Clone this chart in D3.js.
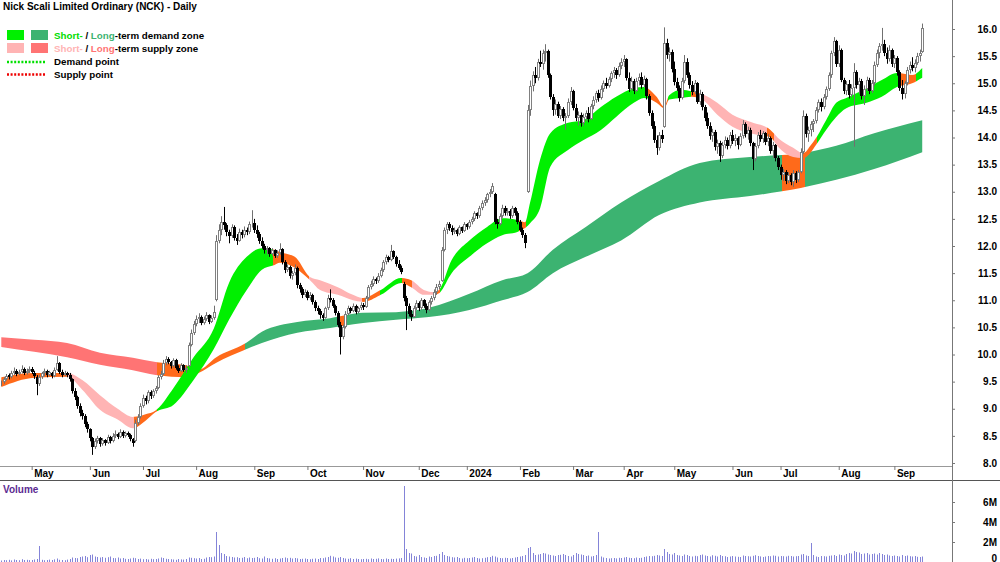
<!DOCTYPE html>
<html>
<head>
<meta charset="utf-8">
<script src="https://d3js.org/d3.v7.min.js"></script>
<style>
body { margin: 0; background: #fff; }
svg { display: block; font-family: "Liberation Sans", Arial, sans-serif; }
</style>
</head>
<body>
<div id="container"></div>
<script>

// trading days in each month shown (first and last are partial)
var monthLabels = ["Apr", "May", "Jun", "Jul", "Aug", "Sep", "Oct", "Nov", "Dec", "2024", "Feb", "Mar", "Apr", "May", "Jun", "Jul", "Aug", "Sep"];
var monthDays = [12, 23, 21, 21, 23, 21, 22, 22, 19, 21, 21, 20, 20, 23, 19, 23, 22, 12];

// daily [open, high, low, close]
var candles = [
	// Apr 2023
	[9.45,9.52,9.42,9.48],[9.50,9.58,9.46,9.55],[9.55,9.64,9.52,9.60],[9.62,9.65,9.54,9.58],[9.58,9.70,9.56,9.66],[9.66,9.76,9.62,9.70],
	[9.70,9.73,9.60,9.64],[9.64,9.72,9.62,9.68],[9.68,9.80,9.65,9.74],[9.74,9.76,9.62,9.66],[9.66,9.74,9.63,9.70],[9.70,9.78,9.66,9.74],
	// May
	[9.74,9.77,9.64,9.68],[9.66,9.70,9.55,9.60],[9.58,9.62,9.25,9.45],[9.45,9.62,9.42,9.58],[9.58,9.68,9.55,9.65],[9.65,9.74,9.60,9.70],
	[9.70,9.72,9.58,9.62],[9.62,9.70,9.60,9.67],[9.66,9.68,9.56,9.60],[9.60,9.76,9.58,9.72],[9.72,9.97,9.70,9.84],[9.84,9.86,9.64,9.68],
	[9.68,9.72,9.58,9.62],[9.62,9.70,9.60,9.66],[9.66,9.68,9.58,9.63],[9.63,9.66,9.50,9.55],[9.55,9.56,9.28,9.32],[9.32,9.38,9.16,9.22],
	[9.22,9.24,9.00,9.05],[9.05,9.10,8.86,8.92],[8.92,8.98,8.80,8.86],[8.86,8.90,8.66,8.72],[8.72,8.76,8.56,8.62],[8.62,8.64,8.40,8.46],
	// Jun
	[8.46,8.48,8.15,8.30],[8.30,8.45,8.26,8.40],[8.40,8.50,8.36,8.46],[8.46,8.48,8.30,8.35],[8.35,8.46,8.32,8.42],[8.42,8.44,8.32,8.37],
	[8.37,8.52,8.35,8.48],[8.48,8.50,8.36,8.40],[8.40,8.55,8.38,8.50],[8.50,8.60,8.46,8.54],[8.54,8.56,8.44,8.48],[8.48,8.62,8.46,8.57],
	[8.57,8.60,8.46,8.50],[8.50,8.58,8.47,8.55],[8.55,8.58,8.48,8.52],[8.52,8.54,8.40,8.44],[8.44,8.46,8.30,8.37],[8.40,8.80,8.38,8.74],
	[8.74,8.90,8.70,8.85],[8.85,9.10,8.82,9.05],
	// Jul
	[9.05,9.26,9.02,9.20],[9.20,9.24,9.08,9.14],[9.14,9.34,9.10,9.30],[9.30,9.34,9.18,9.24],[9.24,9.36,9.20,9.32],[9.32,9.42,9.28,9.38],
	[9.38,9.62,9.36,9.58],[9.58,9.70,9.54,9.64],[9.64,9.90,9.62,9.85],[9.85,9.97,9.80,9.92],[9.92,9.95,9.82,9.86],[9.86,9.88,9.74,9.79],
	[9.79,9.93,9.76,9.90],[9.90,9.92,9.72,9.76],[9.76,9.80,9.66,9.70],[9.70,9.84,9.68,9.80],[9.80,9.82,9.68,9.72],[9.72,9.80,9.66,9.76],
	[9.78,10.22,9.76,10.18],[10.18,10.46,10.15,10.40],[10.40,10.62,10.36,10.56],
	// Aug
	[10.56,10.72,10.52,10.66],[10.66,10.76,10.58,10.70],[10.70,10.72,10.54,10.58],[10.58,10.70,10.55,10.66],[10.66,10.78,10.62,10.72],
	[10.72,10.74,10.56,10.60],[10.60,10.72,10.58,10.68],[10.68,10.90,10.64,10.78],[11.00,12.20,10.98,12.10],[12.10,12.40,12.05,12.30],
	[12.30,12.55,12.20,12.45],[12.45,12.72,12.30,12.38],[12.38,12.42,12.18,12.26],[12.26,12.30,12.05,12.18],[12.18,12.40,12.15,12.35],
	[12.35,12.38,12.10,12.14],[12.14,12.22,12.02,12.10],[12.10,12.32,12.08,12.26],[12.26,12.30,12.14,12.20],[12.20,12.36,12.16,12.30],
	[12.30,12.34,12.20,12.26],[12.26,12.45,12.22,12.40],[12.40,12.66,12.34,12.42],
	// Sep
	[12.42,12.50,12.24,12.30],[12.30,12.38,12.15,12.22],[12.22,12.26,12.04,12.10],[12.10,12.16,11.95,12.00],[12.00,12.04,11.86,11.92],
	[11.92,12.00,11.84,11.96],[11.96,11.98,11.80,11.86],[11.86,11.96,11.82,11.92],[11.92,11.94,11.78,11.82],[11.82,11.92,11.78,11.88],
	[11.88,12.05,11.84,11.94],[11.94,11.96,11.66,11.70],[11.70,11.74,11.50,11.56],[11.56,11.66,11.52,11.62],[11.62,11.64,11.40,11.45],
	[11.45,11.54,11.38,11.50],[11.50,11.66,11.46,11.60],[11.60,11.62,11.22,11.28],[11.28,11.32,11.14,11.20],[11.20,11.24,11.04,11.10],
	[11.10,11.20,11.06,11.16],
	// Oct
	[11.16,11.18,11.00,11.05],[11.05,11.15,11.00,11.10],[11.10,11.12,10.92,10.96],[10.96,11.00,10.80,10.86],[10.86,10.90,10.74,10.80],
	[10.80,10.84,10.66,10.72],[10.72,10.76,10.62,10.68],[10.68,10.88,10.66,10.85],[10.85,11.10,10.82,11.05],[11.05,11.20,10.96,11.00],
	[11.00,11.04,10.86,10.90],[10.90,10.92,10.72,10.76],[10.76,10.80,10.50,10.55],[10.55,10.60,10.00,10.32],[10.32,10.55,10.28,10.50],
	[10.50,10.80,10.48,10.75],[10.75,10.90,10.72,10.85],[10.85,10.88,10.76,10.80],[10.80,10.94,10.78,10.90],[10.90,10.92,10.74,10.78],
	[10.78,10.88,10.76,10.85],[10.85,10.96,10.82,10.92],
	// Nov
	[10.92,10.95,10.82,10.88],[10.88,11.08,10.86,11.05],[11.05,11.28,11.02,11.25],[11.25,11.36,11.20,11.30],[11.30,11.44,11.26,11.40],
	[11.40,11.42,11.30,11.35],[11.35,11.50,11.32,11.45],[11.45,11.60,11.42,11.55],[11.55,11.74,11.52,11.70],[11.70,11.84,11.66,11.80],
	[11.80,11.82,11.70,11.75],[11.75,12.02,11.72,11.90],[11.90,11.92,11.76,11.80],[11.80,11.82,11.62,11.66],[11.66,11.74,11.56,11.60],
	[11.60,11.64,11.48,11.52],[11.30,11.34,10.98,11.04],[11.04,11.08,10.45,10.90],[10.90,10.94,10.70,10.75],[10.75,10.82,10.62,10.70],
	[10.70,10.90,10.68,10.86],[10.86,11.00,10.82,10.95],
	// Dec
	[10.95,10.98,10.80,10.85],[10.85,11.04,10.82,11.00],[11.00,11.02,10.86,10.90],[10.90,10.94,10.76,10.82],[10.82,11.00,10.80,10.96],
	[10.96,11.08,10.92,11.04],[11.04,11.20,11.00,11.15],[11.15,11.30,11.10,11.25],[11.25,11.36,11.20,11.30],[11.36,11.98,11.34,11.92],
	[11.92,12.34,11.90,12.30],[12.30,12.44,12.22,12.40],[12.40,12.44,12.28,12.34],[12.34,12.38,12.20,12.25],[12.25,12.34,12.22,12.30],
	[12.30,12.32,12.18,12.22],[12.22,12.38,12.20,12.35],[12.35,12.36,12.24,12.28],[12.28,12.44,12.26,12.40],
	// Jan 2024
	[12.40,12.42,12.30,12.35],[12.35,12.48,12.32,12.45],[12.45,12.54,12.40,12.50],[12.50,12.64,12.46,12.60],[12.60,12.62,12.50,12.55],
	[12.55,12.74,12.52,12.70],[12.70,12.84,12.66,12.80],[12.80,12.90,12.74,12.85],[12.85,12.98,12.80,12.95],[12.95,13.05,12.90,13.00],
	[13.00,13.16,12.96,13.10],[12.95,12.98,12.40,12.45],[12.45,12.50,12.32,12.40],[12.40,12.60,12.38,12.55],[12.55,12.76,12.52,12.70],
	[12.70,12.74,12.56,12.60],[12.60,12.70,12.56,12.65],[12.65,12.68,12.50,12.55],[12.55,12.74,12.52,12.70],[12.70,12.72,12.56,12.60],
	[12.60,12.64,12.40,12.45],
	// Feb
	[12.45,12.48,12.26,12.30],[12.30,12.34,12.15,12.20],[12.20,12.24,11.96,12.05],[13.00,14.60,12.98,14.50],[14.50,15.05,14.40,14.95],
	[14.95,15.22,14.85,15.15],[15.15,15.30,15.00,15.10],[15.10,15.45,15.05,15.40],[15.40,15.60,15.30,15.35],[15.35,15.62,15.25,15.55],
	[15.55,15.72,15.40,15.60],[15.60,15.62,15.10,15.15],[15.15,15.18,14.70,14.75],[14.75,14.80,14.40,14.50],[14.50,14.70,14.42,14.62],
	[14.62,14.66,14.36,14.40],[14.40,14.58,14.34,14.52],[14.52,14.56,14.30,14.36],[14.36,14.45,14.14,14.40],[14.40,14.72,14.36,14.66],
	[14.66,14.93,14.60,14.85],
	// Mar
	[14.85,14.88,14.50,14.55],[14.55,14.62,14.30,14.36],[14.36,14.48,14.22,14.42],[14.42,14.46,14.20,14.26],[14.26,14.44,14.22,14.38],
	[14.38,14.50,14.30,14.46],[14.46,14.56,14.28,14.34],[14.34,14.62,14.32,14.58],[14.58,14.76,14.52,14.70],[14.70,14.86,14.64,14.82],
	[14.82,14.88,14.66,14.72],[14.72,14.96,14.70,14.90],[14.90,15.05,14.84,15.00],[15.00,15.10,14.90,14.95],[14.95,15.12,14.92,15.08],
	[15.08,15.22,15.02,15.18],[15.18,15.30,15.10,15.25],[15.25,15.28,15.08,15.15],[15.15,15.38,15.12,15.32],[15.32,15.46,15.26,15.40],
	// Apr
	[15.40,15.52,15.30,15.44],[15.44,15.46,15.05,15.10],[15.10,15.20,14.84,14.90],[14.90,15.12,14.86,15.05],[15.05,15.08,14.80,14.86],
	[14.86,15.10,14.84,15.04],[15.04,15.18,14.96,15.12],[15.12,15.20,14.90,14.96],[14.96,15.14,14.92,15.08],[15.08,15.10,14.70,14.76],
	[14.76,14.80,14.40,14.46],[14.46,14.50,14.16,14.22],[14.22,14.30,13.90,13.96],[13.96,14.04,13.68,13.80],[13.80,14.10,13.76,14.04],
	[14.04,14.14,13.90,13.98],[14.20,16.03,14.18,15.75],[15.75,15.82,15.45,15.52],[15.52,15.66,15.40,15.58],[15.58,15.62,15.20,15.26],
	// May
	[15.26,15.40,14.96,15.02],[15.02,15.10,14.86,14.92],[14.92,14.96,14.66,14.72],[14.72,15.10,14.70,15.05],[15.05,15.52,15.00,15.40],
	[15.40,15.46,15.10,15.16],[15.16,15.20,14.90,14.96],[14.96,15.04,14.78,14.84],[14.84,15.06,14.80,15.00],[15.00,15.02,14.62,14.66],
	[14.66,14.88,14.60,14.80],[14.80,14.84,14.50,14.56],[14.56,14.60,14.30,14.36],[14.36,14.46,14.16,14.22],[14.22,14.28,13.96,14.02],
	[14.02,14.16,13.92,14.10],[14.10,14.14,13.76,13.82],[13.82,13.96,13.70,13.90],[13.90,13.94,13.55,13.66],[13.66,13.92,13.62,13.86],
	[13.86,14.02,13.80,13.96],[13.96,14.00,13.78,13.84],[13.84,14.10,13.80,14.04],
	// Jun
	[14.04,14.14,13.88,13.94],[13.94,14.06,13.84,14.00],[14.00,14.02,13.78,13.86],[13.86,14.08,13.84,14.02],[14.02,14.32,13.98,14.24],
	[14.24,14.28,14.00,14.06],[14.06,14.20,13.96,14.14],[14.14,14.18,13.84,13.90],[13.90,13.92,13.40,13.60],[13.60,13.90,13.56,13.84],
	[13.84,14.10,13.80,14.04],[14.04,14.14,13.92,13.98],[13.98,14.12,13.90,14.08],[14.08,14.10,13.86,13.92],[13.92,14.06,13.84,14.00],
	[14.00,14.02,13.70,13.76],[13.76,13.92,13.62,13.86],[13.86,13.88,13.56,13.62],[13.62,13.66,13.40,13.46],
	// Jul
	[13.46,13.50,13.22,13.30],[13.30,13.42,13.20,13.36],[13.36,13.40,13.14,13.20],[13.20,13.36,13.16,13.30],[13.30,13.34,13.12,13.18],
	[13.18,13.40,13.09,13.34],[13.34,13.38,13.16,13.22],[13.22,13.40,13.18,13.36],[13.36,13.80,13.34,13.74],[13.74,14.50,13.70,14.40],
	[14.40,14.44,14.00,14.06],[14.06,14.20,13.92,14.14],[14.14,14.30,14.02,14.24],[14.24,14.34,14.10,14.30],[14.30,14.56,14.26,14.50],
	[14.50,14.70,14.46,14.66],[14.66,14.72,14.48,14.56],[14.56,14.80,14.52,14.74],[14.74,14.94,14.70,14.90],[14.90,15.20,14.86,15.15],
	[15.15,15.60,15.10,15.55],[15.55,15.85,15.50,15.78],[15.78,15.80,15.30,15.36],
	// Aug
	[15.36,15.70,15.30,15.62],[15.62,15.64,15.02,15.06],[15.06,15.10,14.80,14.86],[14.86,15.04,14.78,14.98],[14.98,15.06,14.72,14.78],
	[14.78,14.98,14.74,14.92],[14.92,15.37,13.83,15.20],[15.20,15.24,14.90,14.96],[14.96,15.10,14.80,15.04],[15.04,15.08,14.70,14.76],
	[14.76,14.96,14.60,14.90],[14.90,15.12,14.86,15.06],[15.06,15.10,14.80,14.86],[14.86,15.06,14.82,15.00],[15.00,15.40,14.96,15.34],
	[15.34,15.62,15.30,15.56],[15.56,15.74,15.46,15.68],[15.68,16.02,15.60,15.72],[15.72,15.80,15.50,15.56],[15.56,15.66,15.36,15.44],
	[15.44,15.70,15.40,15.62],[15.62,15.64,15.30,15.36],
	// Sep
	[15.36,15.52,15.28,15.46],[15.46,15.50,15.14,15.20],[15.20,15.24,14.86,14.92],[14.92,15.06,14.70,14.80],[14.80,15.04,14.72,15.00],
	[15.00,15.30,14.96,15.24],[15.24,15.40,15.18,15.34],[15.34,15.48,15.22,15.28],[15.28,15.44,15.20,15.38],[15.38,15.56,15.34,15.50],
	[15.50,15.62,15.40,15.56],[15.58,16.10,15.56,16.02]
];

// daily volume, millions
var volumes = [
	0.15,0.2,0.18,0.22,0.16,0.25,0.2,0.18,0.28,0.2,0.22,0.19,
	0.2,0.25,0.3,1.6,0.22,0.18,0.2,0.24,0.2,0.26,0.35,0.22,0.2,0.18,0.24,0.3,0.45,0.4,0.38,0.5,0.55,0.6,0.48,0.7,
	0.75,0.55,0.5,0.45,0.5,0.42,0.48,0.55,0.4,0.38,0.45,0.35,0.4,0.32,0.3,0.35,0.42,0.38,0.3,0.34,
	0.28,0.3,0.25,0.32,0.28,0.3,0.35,0.45,0.4,0.32,0.3,0.28,0.25,0.22,0.3,0.26,0.24,0.3,0.45,0.42,0.38,
	0.35,0.4,0.3,0.32,0.45,0.5,0.48,0.55,3.0,1.7,0.9,0.8,0.6,0.55,0.5,0.45,0.48,0.4,0.42,0.5,0.38,0.45,0.4,
	0.42,0.5,0.38,0.35,0.55,0.4,0.36,0.32,0.38,0.3,0.35,0.4,0.45,0.38,0.42,0.35,0.4,0.36,0.3,0.32,0.35,
	0.3,0.28,0.32,0.35,0.3,0.4,0.38,0.45,0.5,0.62,0.55,0.45,0.42,0.5,0.4,0.35,0.32,0.38,0.3,0.34,0.3,0.28,
	0.3,0.32,0.28,0.35,0.3,0.32,0.36,0.3,0.28,0.35,0.3,0.32,0.3,0.34,0.36,0.4,7.6,1.3,0.9,0.85,0.6,0.55,
	0.7,0.5,0.45,0.4,0.55,0.5,0.6,0.62,0.8,1.0,0.7,0.6,0.55,0.48,0.45,0.5,0.4,0.35,0.42,
	0.38,0.4,0.45,0.5,0.4,0.35,0.38,0.42,0.48,0.5,0.62,0.55,0.45,0.4,0.38,0.42,0.4,0.36,0.4,0.45,0.5,
	0.55,0.6,0.7,1.4,1.5,0.9,0.7,0.75,0.8,0.9,0.85,0.75,0.7,0.65,0.6,0.7,0.72,0.8,0.7,0.6,0.55,
	0.7,0.9,0.8,0.75,0.7,0.6,0.65,0.55,0.6,0.7,3.0,0.55,0.45,0.4,0.35,0.38,0.4,0.36,0.42,0.4,
	0.45,0.5,0.42,0.4,0.38,0.45,0.4,0.42,0.5,0.55,0.6,0.58,0.62,0.7,0.65,0.6,1.3,1.0,0.8,0.75,
	0.9,0.7,0.65,0.6,0.75,0.7,0.6,0.55,0.62,0.58,0.7,0.75,0.65,0.6,0.55,0.68,0.62,0.55,0.7,0.6,0.58,0.5,0.55,
	0.6,0.55,0.52,0.5,0.65,0.6,0.58,0.55,0.62,0.68,0.6,0.56,0.5,0.55,0.6,0.58,0.65,0.62,0.55,
	0.6,0.58,0.55,0.62,0.6,0.55,0.58,0.6,0.75,0.8,0.65,0.6,1.9,0.7,0.55,0.5,0.6,0.58,0.55,0.62,0.65,0.7,0.6,
	0.75,0.7,0.65,0.8,0.9,0.85,1.1,1.0,0.95,0.8,0.85,0.9,0.75,0.8,0.85,0.75,0.9,0.8,0.7,0.75,0.65,0.6,
	0.65,0.6,0.55,0.7,0.6,0.65,0.58,0.55,0.6,0.52,0.5,0.55
];

// short-term zone edges, read at these day indexes
var stIdx = [0,13,26,32,39,46,52,57,61,68,76,84,90,97,103,108,110,116,122,126,133,139,143,150,158,162,167,171,173,178,185,192,198,204,207,209,213,217,224,230,237,243,250,254,259,262,264,269,273,277,283,289,296,304,307,313,317,320,322,326,330,334,342,348,354,360,364];
var stHi = [9.58,9.66,9.66,9.53,9.25,9.00,8.85,8.90,8.97,9.38,9.95,10.48,11.32,11.80,11.96,11.93,11.89,11.80,11.43,11.37,11.24,11.10,11.04,11.19,11.41,11.37,11.19,11.15,11.19,11.74,12.10,12.35,12.51,12.48,12.44,12.80,13.60,14.08,14.27,14.32,14.56,14.75,14.91,14.93,14.75,14.57,14.78,14.88,14.85,14.80,14.64,14.42,14.29,14.14,13.99,13.81,13.71,13.86,13.99,14.32,14.64,14.73,14.91,15.06,15.19,15.15,15.28];
var stLo = [9.40,9.57,9.59,9.35,8.98,8.80,8.64,8.78,8.94,9.07,9.53,10.10,10.64,11.19,11.56,11.65,11.69,11.60,11.37,11.19,11.10,11.00,10.97,11.10,11.32,11.24,11.10,11.10,11.13,11.50,11.80,12.05,12.20,12.26,12.33,12.42,12.70,13.46,13.77,13.95,14.14,14.38,14.64,14.73,14.64,14.54,14.70,14.73,14.75,14.70,14.42,14.20,14.08,14.00,13.83,13.64,13.62,13.73,13.86,14.14,14.38,14.54,14.64,14.75,14.93,15.00,15.10];
// [first day, last day, d = demand, s = supply, n = neutral]
var stStates = [[0,26,"n"],[27,52,"s"],[53,61,"n"],[62,107,"d"],[108,121,"n"],[122,142,"s"],[143,149,"n"],[150,158,"d"],[159,162,"n"],[163,170,"s"],[171,173,"n"],[174,204,"d"],[205,207,"n"],[208,255,"d"],[256,263,"n"],[264,272,"d"],[273,276,"n"],[277,302,"s"],[303,305,"n"],[306,316,"s"],[317,322,"n"],[323,355,"d"],[356,361,"n"],[362,364,"d"]];

// long-term zone edges
var ltIdx = [0,13,26,39,52,61,73,78,85,97,103,117,130,143,156,169,185,198,208,218,231,245,260,276,296,316,330,345,364];
var ltHi = [10.32,10.27,10.21,10.03,9.94,9.86,9.80,9.72,9.95,10.22,10.42,10.60,10.67,10.77,10.78,10.86,11.12,11.37,11.50,11.93,12.35,12.80,13.20,13.53,13.64,13.71,13.85,14.08,14.32];
var ltLo = [10.14,10.05,9.95,9.81,9.71,9.62,9.58,9.66,9.85,10.10,10.21,10.40,10.49,10.58,10.64,10.69,10.82,11.00,11.15,11.50,11.80,12.10,12.57,12.80,12.92,13.07,13.22,13.42,13.73];
var ltStates = [[0,61,"s"],[62,96,"n"],[97,133,"d"],[134,135,"n"],[136,308,"d"],[309,317,"n"],[318,364,"d"]];

var priceTicks = [8, 8.5, 9, 9.5, 10, 10.5, 11, 11.5, 12, 12.5, 13, 13.5, 14, 14.5, 15, 15.5, 16];
var volumeTicks = [0, 2, 4, 6];


function drawband(svg, defs, name, idx, hi, lo, states, colors, x, y) {
	var data = idx.map(function(d, k) { return {i: d, hi: hi[k], lo: lo[k]}; });
	var area = d3.area()
		.x(function(d) { return x(d.i); })
		.y0(function(d) { return y(d.lo); })
		.y1(function(d) { return y(d.hi); })
		.curve(d3.curveMonotoneX);
	for (var k = 0; k < states.length; k++) {
		var s = states[k];
		var x0 = Math.round(x(s[0] - 0.5));
		var x1 = Math.round(x(s[1] + 0.5));
		defs.append("clipPath").attr("id", name + k)
			.append("rect").attr("x", x0).attr("y", 0).attr("width", x1 - x0).attr("height", 466);
		svg.append("path").datum(data)
			.attr("d", area)
			.attr("fill", colors[s[2]])
			.attr("clip-path", "url(#" + name + k + ")");
	}
};


function drawcandles(svg, x, y) {
	var g = svg.append("g");
	candles.forEach(function(c, i) {
		var xi = Math.round(x(i));
		var up = c[3] >= c[0];
		g.append("line")
			.attr("x1", xi + 0.5).attr("x2", xi + 0.5)
			.attr("y1", y(c[1])).attr("y2", y(c[2]))
			.attr("stroke", up ? "#707070" : "#000")
			.attr("stroke-width", 1);
		var top = Math.round(y(Math.max(c[0], c[3])));
		var h = Math.max(1, Math.round(y(Math.min(c[0], c[3]))) - top);
		if (up) {
			g.append("rect")
				.attr("x", xi - 0.5).attr("y", top + 0.5)
				.attr("width", 2).attr("height", Math.max(0, h - 1))
				.attr("fill", "#fff").attr("stroke", "#808080").attr("stroke-width", 1);
		} else {
			g.append("rect")
				.attr("x", xi - 1).attr("y", top)
				.attr("width", 3).attr("height", h)
				.attr("fill", "#000");
		}
	});
};


function drawlegend(svg) {
	var g = svg.append("g").attr("font-size", "9.75px").attr("font-weight", "bold");
	svg.append("text").attr("x", 3).attr("y", 10)
		.attr("font-size", "10px").attr("font-weight", "bold")
		.text("Nick Scali Limited Ordinary (NCK) - Daily");

	g.append("rect").attr("x", 7).attr("y", 30).attr("width", 17).attr("height", 10).attr("fill", "#00f000");
	g.append("rect").attr("x", 31).attr("y", 30).attr("width", 17).attr("height", 10).attr("fill", "#3cb371");
	var t1 = g.append("text").attr("x", 54).attr("y", 38.5);
	t1.append("tspan").attr("fill", "#00dd00").text("Short-");
	t1.append("tspan").text(" / ");
	t1.append("tspan").attr("fill", "#3cb371").text("Long");
	t1.append("tspan").text("-term demand zone");

	g.append("rect").attr("x", 7).attr("y", 43).attr("width", 17).attr("height", 10).attr("fill", "#ffb4b4");
	g.append("rect").attr("x", 31).attr("y", 43).attr("width", 17).attr("height", 10).attr("fill", "#ff7474");
	var t2 = g.append("text").attr("x", 54).attr("y", 51.5);
	t2.append("tspan").attr("fill", "#ffb4b4").text("Short-");
	t2.append("tspan").text(" / ");
	t2.append("tspan").attr("fill", "#ff7474").text("Long");
	t2.append("tspan").text("-term supply zone");

	g.append("line").attr("x1", 7).attr("x2", 45).attr("y1", 62).attr("y2", 62)
		.attr("stroke", "#00e000").attr("stroke-width", 2.5).attr("stroke-dasharray", "2,1.6");
	g.append("text").attr("x", 54).attr("y", 64.5).text("Demand point");
	g.append("line").attr("x1", 7).attr("x2", 45).attr("y1", 74.5).attr("y2", 74.5)
		.attr("stroke", "#ee0000").attr("stroke-width", 2.5).attr("stroke-dasharray", "2,1.6");
	g.append("text").attr("x", 54).attr("y", 77.5).text("Supply point");
};


function drawit() {
	var width = 1000, height = 562;
	var svg = d3.select("#container").append("svg")
		.attr("width", width).attr("height", height);
	var defs = svg.append("defs");

	var n = candles.length;
	var x = d3.scaleLinear().domain([0, n - 1]).range([1.3, 1.3 + 2.53 * (n - 1)]);
	var y = d3.scaleLinear().domain([8, 16]).range([463, 29]);
	var yv = d3.scaleLinear().domain([0, 6]).range([562, 502]);

	defs.append("clipPath").attr("id", "main")
		.append("rect").attr("x", 0).attr("y", 0).attr("width", 952).attr("height", 466);
	var plot = svg.append("g").attr("clip-path", "url(#main)");

	drawband(plot, defs, "lt", ltIdx, ltHi, ltLo, ltStates, {d: "#3cb371", s: "#ff7474", n: "#ff6a1a"}, x, y);
	drawband(plot, defs, "st", stIdx, stHi, stLo, stStates, {d: "#00f000", s: "#ffb4b4", n: "#ff6a1a"}, x, y);
	drawcandles(plot, x, y);

	// volume
	svg.append("g").selectAll("rect")
		.data(volumes)
		.enter()
		.append("rect")
		.attr("x", function(d, i) { return Math.round(x(i)); })
		.attr("y", function(d) { return yv(d); })
		.attr("width", 1)
		.attr("height", function(d) { return 562 - yv(d); })
		.attr("fill", "#8484d8");
	svg.append("text").attr("x", 3).attr("y", 493)
		.attr("font-size", "10px").attr("font-weight", "bold").attr("fill", "#5b2a91")
		.text("Volume");

	// frame lines
	svg.append("line").attr("x1", 0).attr("x2", 952).attr("y1", 466.5).attr("y2", 466.5).attr("stroke", "#999");
	svg.append("line").attr("x1", 0).attr("x2", 1000).attr("y1", 480.5).attr("y2", 480.5).attr("stroke", "#555");
	svg.append("line").attr("x1", 952.5).attr("x2", 952.5).attr("y1", 0).attr("y2", 562).attr("stroke", "#777");

	// month axis
	var starts = [], labels = [], acc = 0;
	for (var m = 0; m < monthDays.length; m++) {
		if (m > 0) { starts.push(acc); labels.push(monthLabels[m]); }
		acc += monthDays[m];
	}
	var xaxis = svg.append("g").attr("transform", "translate(0,466)")
		.call(d3.axisBottom(x).tickValues(starts).tickSize(4)
			.tickFormat(function(d, k) { return labels[k]; }));
	xaxis.select(".domain").remove();
	xaxis.selectAll("line").attr("stroke", "#777");
	xaxis.selectAll("text")
		.attr("x", 2).attr("y", 11).attr("dy", 0)
		.attr("text-anchor", "start")
		.attr("font-family", "Liberation Sans, Arial, sans-serif")
		.attr("font-size", "10px").attr("font-weight", "bold").attr("fill", "#000");

	// price axis
	var yaxis = svg.append("g").attr("transform", "translate(952,0)")
		.call(d3.axisRight(y).tickValues(priceTicks).tickSize(3).tickFormat(d3.format(".1f")));
	yaxis.select(".domain").remove();
	yaxis.selectAll("line").attr("stroke", "#777");
	yaxis.selectAll("text")
		.attr("x", 45).attr("text-anchor", "end")
		.attr("font-family", "Liberation Sans, Arial, sans-serif")
		.attr("font-size", "10px").attr("font-weight", "bold").attr("fill", "#000");

	var vaxis = svg.append("g").attr("transform", "translate(952,0)")
		.call(d3.axisRight(yv).tickValues(volumeTicks).tickSize(3)
			.tickFormat(function(d) { return d ? d + "M" : "0"; }));
	vaxis.select(".domain").remove();
	vaxis.selectAll("line").attr("stroke", "#777");
	vaxis.selectAll("text")
		.attr("x", 45).attr("text-anchor", "end")
		.attr("font-family", "Liberation Sans, Arial, sans-serif")
		.attr("font-size", "10px").attr("font-weight", "bold").attr("fill", "#000");
	// keep the zero label inside the picture
	vaxis.selectAll("text").filter(function(d) { return d === 0; })
		.attr("dy", 0).attr("y", -1);

	drawlegend(svg);
};


drawit()

</script>
</body>
</html>
